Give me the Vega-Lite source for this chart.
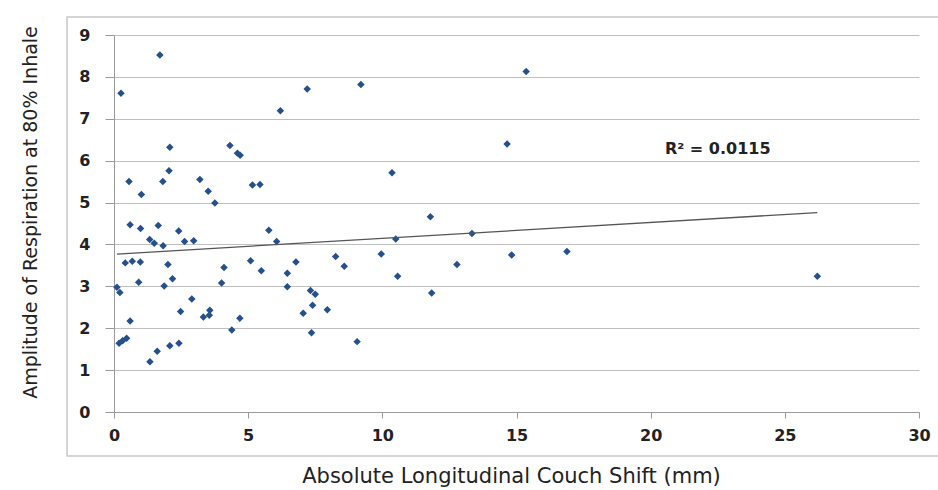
{
  "$schema": "https://vega.github.io/schema/vega-lite/v6.json",
  "width": 805,
  "height": 377,
  "autosize": "none",
  "padding": {"left": 114, "top": 35, "right": 19, "bottom": 78},
  "background": "white",
  "config": {
    "view": {"stroke": null},
    "font": "Liberation Sans"
  },
  "datasets": {
    "shifts": [
      {"shift": 1.71, "amplitude": 8.52},
      {"shift": 0.26, "amplitude": 7.61},
      {"shift": 6.2, "amplitude": 7.19},
      {"shift": 2.08, "amplitude": 6.32},
      {"shift": 4.32, "amplitude": 6.36},
      {"shift": 4.6, "amplitude": 6.18},
      {"shift": 4.7, "amplitude": 6.13},
      {"shift": 2.05, "amplitude": 5.76},
      {"shift": 0.56, "amplitude": 5.5},
      {"shift": 1.82, "amplitude": 5.5},
      {"shift": 3.2, "amplitude": 5.55},
      {"shift": 1.02, "amplitude": 5.19},
      {"shift": 3.51, "amplitude": 5.27},
      {"shift": 3.76, "amplitude": 4.99},
      {"shift": 5.16, "amplitude": 5.42},
      {"shift": 5.44, "amplitude": 5.43},
      {"shift": 0.6, "amplitude": 4.47},
      {"shift": 0.99, "amplitude": 4.38},
      {"shift": 1.65, "amplitude": 4.45},
      {"shift": 2.41, "amplitude": 4.32},
      {"shift": 1.33, "amplitude": 4.12},
      {"shift": 1.5, "amplitude": 4.03},
      {"shift": 1.83, "amplitude": 3.97},
      {"shift": 2.63, "amplitude": 4.07},
      {"shift": 2.97, "amplitude": 4.09},
      {"shift": 5.77, "amplitude": 4.34},
      {"shift": 6.06, "amplitude": 4.07},
      {"shift": 0.42, "amplitude": 3.56},
      {"shift": 0.68, "amplitude": 3.6},
      {"shift": 0.98, "amplitude": 3.58},
      {"shift": 2.01, "amplitude": 3.52},
      {"shift": 0.92, "amplitude": 3.1},
      {"shift": 2.18, "amplitude": 3.18},
      {"shift": 1.87, "amplitude": 3.01},
      {"shift": 5.09, "amplitude": 3.61},
      {"shift": 5.49, "amplitude": 3.37},
      {"shift": 4.1, "amplitude": 3.45},
      {"shift": 4.01, "amplitude": 3.08},
      {"shift": 6.46, "amplitude": 3.31},
      {"shift": 6.78, "amplitude": 3.58},
      {"shift": 6.46, "amplitude": 2.99},
      {"shift": 0.11, "amplitude": 2.98},
      {"shift": 0.22, "amplitude": 2.85},
      {"shift": 2.9, "amplitude": 2.7},
      {"shift": 2.48, "amplitude": 2.4},
      {"shift": 3.33, "amplitude": 2.27},
      {"shift": 3.55, "amplitude": 2.31},
      {"shift": 3.57, "amplitude": 2.43},
      {"shift": 4.69, "amplitude": 2.24},
      {"shift": 0.6, "amplitude": 2.17},
      {"shift": 4.39, "amplitude": 1.96},
      {"shift": 0.19, "amplitude": 1.64},
      {"shift": 0.32, "amplitude": 1.7},
      {"shift": 0.47, "amplitude": 1.76},
      {"shift": 1.61, "amplitude": 1.45},
      {"shift": 2.08, "amplitude": 1.58},
      {"shift": 2.42, "amplitude": 1.64},
      {"shift": 1.34, "amplitude": 1.2},
      {"shift": 7.2, "amplitude": 7.71},
      {"shift": 9.2, "amplitude": 7.82},
      {"shift": 10.36, "amplitude": 5.71},
      {"shift": 11.79, "amplitude": 4.66},
      {"shift": 10.5, "amplitude": 4.13},
      {"shift": 13.34, "amplitude": 4.26},
      {"shift": 8.26, "amplitude": 3.71},
      {"shift": 8.58, "amplitude": 3.48},
      {"shift": 9.96, "amplitude": 3.77},
      {"shift": 12.78, "amplitude": 3.52},
      {"shift": 10.57, "amplitude": 3.24},
      {"shift": 11.84, "amplitude": 2.84},
      {"shift": 7.32, "amplitude": 2.9},
      {"shift": 7.5, "amplitude": 2.81},
      {"shift": 7.4, "amplitude": 2.55},
      {"shift": 7.95, "amplitude": 2.44},
      {"shift": 7.05, "amplitude": 2.36},
      {"shift": 7.36, "amplitude": 1.89},
      {"shift": 9.06, "amplitude": 1.68},
      {"shift": 15.36, "amplitude": 8.13},
      {"shift": 14.65, "amplitude": 6.4},
      {"shift": 14.82, "amplitude": 3.75},
      {"shift": 16.88, "amplitude": 3.83},
      {"shift": 26.21, "amplitude": 3.24}
    ],
    "trend": [
      {"shift": 0.11, "amplitude": 3.77},
      {"shift": 26.21, "amplitude": 4.76}
    ],
    "note": [
      {"label": "R² = 0.0115"}
    ]
  },
  "layer": [
    {
      "data": {"name": "note"},
      "mark": {"type": "rect", "filled": false, "stroke": "#c8c8c8", "strokeWidth": 1.5, "clip": false},
      "encoding": {
        "x": {"datum": -1.75},
        "x2": {"datum": 31.2},
        "y": {"datum": -1.05},
        "y2": {"datum": 9.43}
      }
    },
    {
      "data": {"name": "shifts"},
      "mark": {"type": "point", "shape": "diamond", "filled": true, "size": 56, "color": "#24508c", "opacity": 1},
      "encoding": {
        "x": {
          "field": "shift",
          "type": "quantitative",
          "scale": {"domain": [0, 30], "nice": false, "zero": false},
          "axis": {
            "values": [0, 5, 10, 15, 20, 25, 30],
            "grid": false,
            "domainColor": "#9a9a9a",
            "tickColor": "#9a9a9a",
            "tickSize": 6,
            "labelFont": "DejaVu Sans",
            "labelFontWeight": "bold",
            "labelFontSize": 16,
            "labelColor": "#222222",
            "labelPadding": 9,
            "labelFlush": false,
            "title": "Absolute Longitudinal Couch Shift (mm)",
            "titleFont": "DejaVu Sans",
            "titleFontWeight": "normal",
            "titleFontSize": 21,
            "titleColor": "#222222",
            "titleX": 397,
            "titleY": 64,
            "titleBaseline": "middle"
          }
        },
        "y": {
          "field": "amplitude",
          "type": "quantitative",
          "scale": {"domain": [0, 9], "nice": false, "zero": false},
          "axis": {
            "values": [0, 1, 2, 3, 4, 5, 6, 7, 8, 9],
            "grid": true,
            "gridColor": "#bfbfbf",
            "gridWidth": 1.2,
            "domainColor": "#9a9a9a",
            "tickColor": "#9a9a9a",
            "tickSize": 9,
            "labelFont": "DejaVu Sans",
            "labelFontWeight": "bold",
            "labelFontSize": 16,
            "labelColor": "#222222",
            "labelPadding": 15,
            "labelFlush": false,
            "title": "Amplitude of Respiration at 80% Inhale",
            "titleFont": "DejaVu Sans",
            "titleFontWeight": "normal",
            "titleFontSize": 19,
            "titleColor": "#222222",
            "titleX": -84,
            "titleY": 177,
            "titleBaseline": "middle"
          }
        }
      }
    },
    {
      "data": {"name": "trend"},
      "mark": {"type": "line", "color": "#555555", "strokeWidth": 1.3},
      "encoding": {
        "x": {"field": "shift", "type": "quantitative"},
        "y": {"field": "amplitude", "type": "quantitative"}
      }
    },
    {
      "data": {"name": "note"},
      "mark": {"type": "text", "font": "DejaVu Sans", "fontWeight": "bold", "fontSize": 16, "fill": "#222222", "align": "center", "baseline": "middle"},
      "encoding": {
        "text": {"field": "label", "type": "nominal"},
        "x": {"datum": 22.5},
        "y": {"datum": 6.28}
      }
    }
  ]
}
